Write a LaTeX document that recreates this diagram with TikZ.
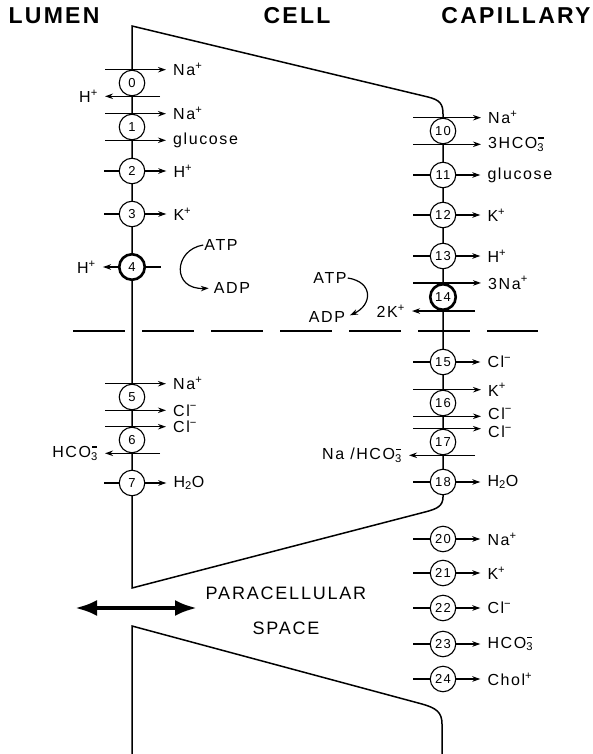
\documentclass[tikz,border=0pt]{standalone}
\usepackage{fontspec}
\setmainfont{Liberation Sans}
\newfontfamily\lettering[LetterSpace=10]{Liberation Sans}
\usetikzlibrary{positioning,arrows.meta}
\newcommand\plus{\textsuperscript{+}}
\newcommand\minus{\textsuperscript{−}}
\newcommand\hcoiii{HCO\rlap{\hspace{0.06em}\raisebox{0.62em}{\rule{0.32em}{0.07em}}}\textsubscript{3}}

\begin{document}
\begin{tikzpicture}[x=1pt, y=-1pt,
  memb/.style={line width=1.5pt},
  tr/.style={circle, draw, fill=white, line width=1.1pt, minimum size=25.5pt, inner sep=0pt, font=\lettering\fontsize{13}{13}\selectfont},
  pump/.style={tr, line width=2.6pt},
  ion/.style={inner sep=1pt, font=\lettering\fontsize{16}{17}\selectfont},
  head/.style={font=\lettering\bfseries\fontsize{23}{24}\selectfont},
  stub/.style={line width=1.2pt},
  arr/.style={-{Stealth[length=8pt,width=5.5pt]}, line width=1.2pt, shorten >=6pt},
  cyc/.style={-{Stealth[length=8pt,width=5.5pt]}, line width=1.2pt, shorten >=4pt},
  para/.style={{Latex[length=22pt,width=16pt]}-{Latex[length=22pt,width=16pt]}, line width=4pt}]
\useasboundingbox (0,0) rectangle (593,754);

% headings
\node[head] (lum) at (54,16) {LUMEN};
\node[head] (cel) at (297,16) {CELL};
\node[head] (cap) at (516,16) {CAPILLARY};

% cell outlines and the dashed divide
\draw[memb] (132,588) -- (132,26) -- (428,97) .. controls (440,100) and (443,104) .. (443,114)
  -- (443,497) .. controls (443,506) and (437,509) .. (425,512) -- cycle;
\draw[memb] (132,754) -- (132,626) -- (422,704) .. controls (436,708) and (442,712) .. (442,724) -- (442,754);
\draw[memb, dash pattern=on 52pt off 17pt] (73,331) -- (538,331);

% luminal membrane
\node[tr] (t0) at (132,83) {0};
\node[ion, anchor=west] (na0) at ([xshift=40pt]t0.north) {Na\plus};
\node[ion, anchor=east] (h0) at ([xshift=-33pt]t0.south) {H\plus};
\draw[arr] ([xshift=-27pt]t0.north) -- (na0.west);
\draw[arr] ([xshift=28pt]t0.south) -- (h0.east);

\node[tr] (t1) at (132,127) {1};
\node[ion, anchor=west] (na1) at ([xshift=40pt]t1.north) {Na\plus};
\node[ion, anchor=west] (gl1) at ([xshift=40pt]t1.south) {glucose};
\draw[arr] ([xshift=-27pt]t1.north) -- (na1.west);
\draw[arr] ([xshift=-27pt]t1.south) -- (gl1.west);

\node[tr] (t2) at (132,171) {2};
\node[ion, right=27pt of t2] (h2) {H\plus};
\draw[stub] (t2.west) -- ++(-15,0);
\draw[arr] (t2.east) -- (h2.west);

\node[tr] (t3) at (132,214) {3};
\node[ion, right=27pt of t3] (k3) {K\plus};
\draw[stub] (t3.west) -- ++(-15,0);
\draw[arr] (t3.east) -- (k3.west);

\node[pump] (t4) at (132,267) {4};
\node[ion, left=21pt of t4] (h4) {H\plus};
\draw[stub] (t4.east) -- ++(15,0);
\draw[arr] (t4.west) -- (h4.east);

\node[ion] (atp1) at (221,245) {ATP};
\node[ion] (adp1) at (232,288) {ADP};
\draw[cyc] (atp1.west) .. controls +(-30,5) and +(-41,2) .. (adp1.west);

\node[tr] (t5) at (132,397) {5};
\node[ion, anchor=west] (na5) at ([xshift=40pt]t5.north) {Na\plus};
\node[ion, anchor=west] (cl5) at ([xshift=40pt]t5.south) {Cl\minus};
\draw[arr] ([xshift=-27pt]t5.north) -- (na5.west);
\draw[arr] ([xshift=-27pt]t5.south) -- (cl5.west);

\node[tr] (t6) at (132,440) {6};
\node[ion, anchor=west] (cl6) at ([xshift=40pt]t6.north) {Cl\minus};
\node[ion, anchor=east] (hc6) at ([xshift=-33pt]t6.south) {\hcoiii};
\draw[arr] ([xshift=-27pt]t6.north) -- (cl6.west);
\draw[arr] ([xshift=28pt]t6.south) -- (hc6.east);

\node[tr] (t7) at (132,483) {7};
\node[ion, right=27pt of t7] (w7) {H\textsubscript{2}O};
\draw[stub] (t7.west) -- ++(-15,0);
\draw[arr] (t7.east) -- (w7.west);

% basolateral membrane
\node[tr] (t10) at (443,131) {10};
\node[ion, anchor=west] (na10) at ([xshift=44pt]t10.north) {Na\plus};
\node[ion, anchor=west] (hc10) at ([xshift=44pt]t10.south) {3\hcoiii};
\draw[arr] ([xshift=-30pt]t10.north) -- (na10.west);
\draw[arr] ([xshift=-30pt]t10.south) -- (hc10.west);

\node[tr] (t11) at (443,175) {11};
\node[ion, right=30pt of t11] (gl11) {glucose};
\draw[stub] (t11.west) -- ++(-17,0);
\draw[arr] (t11.east) -- (gl11.west);

\node[tr] (t12) at (443,215) {12};
\node[ion, right=30pt of t12] (k12) {K\plus};
\draw[stub] (t12.west) -- ++(-17,0);
\draw[arr] (t12.east) -- (k12.west);

\node[tr] (t13) at (443,256) {13};
\node[ion, right=30pt of t13] (h13) {H\plus};
\draw[stub] (t13.west) -- ++(-17,0);
\draw[arr] (t13.east) -- (h13.west);

\node[pump] (t14) at (443,297) {14};
\node[ion, anchor=west] (na14) at ([xshift=44pt]t14.north) {3Na\plus};
\node[ion, anchor=east] (k14) at ([xshift=-37pt]t14.south) {2K\plus};
\draw[arr] ([xshift=-30pt]t14.north) -- (na14.west);
\draw[arr] ([xshift=32pt]t14.south) -- (k14.east);

\node[ion] (atp2) at (330,278) {ATP};
\node[ion] (adp2) at (327,317) {ADP};
\draw[cyc] (atp2.east) .. controls +(26,4) and +(26,-12) .. (adp2.east);

\node[tr] (t15) at (443,362) {15};
\node[ion, right=30pt of t15] (cl15) {Cl\minus};
\draw[stub] (t15.west) -- ++(-17,0);
\draw[arr] (t15.east) -- (cl15.west);

\node[tr] (t16) at (443,403) {16};
\node[ion, anchor=west] (k16) at ([xshift=44pt]t16.north) {K\plus};
\node[ion, anchor=west] (cl16) at ([xshift=44pt, yshift=3pt]t16.south) {Cl\minus};
\draw[arr] ([xshift=-30pt]t16.north) -- (k16.west);
\draw[arr] ([xshift=-30pt]t16.south) -- (t16.south -| cl16.west);

\node[tr] (t17) at (443,442) {17};
\node[ion, anchor=west] (cl17) at ([xshift=44pt, yshift=-3pt]t17.north) {Cl\minus};
\node[ion, anchor=east] (nh17) at ([xshift=-40pt]t17.south) {Na /\hcoiii};
\draw[arr] ([xshift=-30pt]t17.north) -- (t17.north -| cl17.west);
\draw[arr] ([xshift=32pt]t17.south) -- (nh17.east);

\node[tr] (t18) at (443,482) {18};
\node[ion, right=30pt of t18] (w18) {H\textsubscript{2}O};
\draw[stub] (t18.west) -- ++(-17,0);
\draw[arr] (t18.east) -- (w18.west);

% paracellular pathway
\node[tr] (t20) at (443,539) {20};
\node[ion, right=30pt of t20] (na20) {Na\plus};
\draw[stub] (t20.west) -- ++(-17,0);
\draw[arr] (t20.east) -- (na20.west);

\node[tr] (t21) at (443,573) {21};
\node[ion, right=30pt of t21] (k21) {K\plus};
\draw[stub] (t21.west) -- ++(-17,0);
\draw[arr] (t21.east) -- (k21.west);

\node[tr] (t22) at (443,608) {22};
\node[ion, right=30pt of t22] (cl22) {Cl\minus};
\draw[stub] (t22.west) -- ++(-17,0);
\draw[arr] (t22.east) -- (cl22.west);

\node[tr] (t23) at (443,644) {23};
\node[ion, right=30pt of t23] (hc23) {\hcoiii};
\draw[stub] (t23.west) -- ++(-17,0);
\draw[arr] (t23.east) -- (hc23.west);

\node[tr] (t24) at (443,679) {24};
\node[ion, right=30pt of t24] (ch24) {Chol\plus};
\draw[stub] (t24.west) -- ++(-17,0);
\draw[arr] (t24.east) -- (ch24.west);

\coordinate (pl) at (75,608);
\coordinate (pr) at (197,608);
\draw[para] (pl) -- (pr);
\node[font=\lettering\fontsize{18}{35}\selectfont, align=center] (pcs) at (286,611) {PARACELLULAR\\SPACE};
\end{tikzpicture}
\end{document}
